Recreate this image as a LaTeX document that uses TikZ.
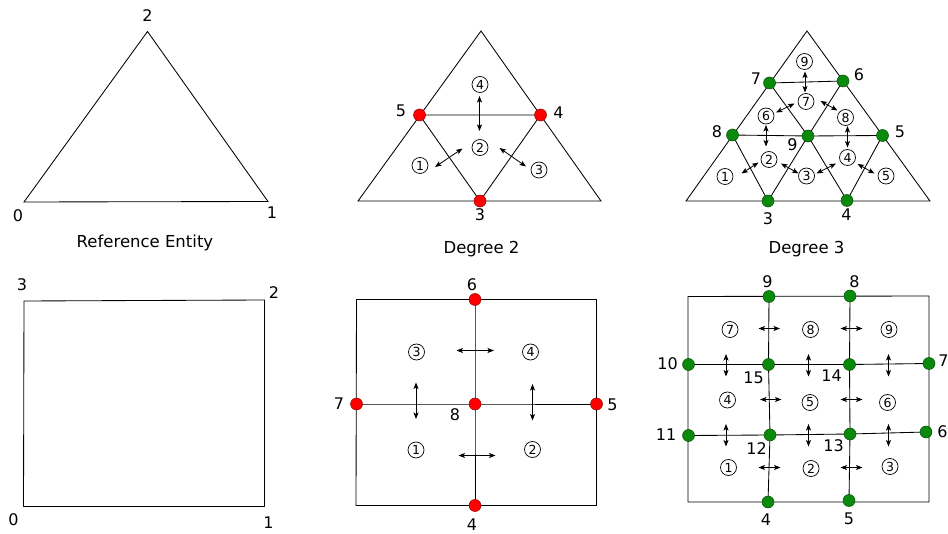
\documentclass[tikz,border=0pt]{standalone}
\usepackage{fontspec}
\setmainfont{DejaVu Sans}
\usetikzlibrary{arrows.meta}
\definecolor{rdot}{HTML}{FF0000}
\definecolor{gdot}{HTML}{0A8A0A}
\begin{document}
\begin{tikzpicture}[x=1pt,y=-1pt,
  edge/.style={line width=0.85pt, line join=miter},
  rdotst/.style={circle, fill=rdot, draw=rdot!55!black, line width=0.5pt, minimum size=12pt, inner sep=0pt},
  gdotst/.style={circle, fill=gdot, draw=gdot!55!black, line width=0.5pt, minimum size=12pt, inner sep=0pt},
  lab/.style={inner sep=0pt, font=\fontsize{16}{16}\selectfont},
  ttl/.style={inner sep=0pt, font=\fontsize{16.5}{18}\selectfont},
  cnum/.style={circle, draw, line width=0.7pt, minimum size=16pt, inner sep=0pt, font=\fontsize{12.5}{12.5}\selectfont},
  dbl/.style={line width=0.8pt, {Stealth[length=6.5pt,width=5pt,inset=1.5pt]}-{Stealth[length=6.5pt,width=5pt,inset=1.5pt]}}]
\path[use as bounding box] (0,0) rectangle (948,534);

% ---------------- Reference triangle ----------------
\coordinate (rt0) at (24,202);
\coordinate (rt1) at (268,201.5);
\coordinate (rt2) at (147.5,31.5);
\draw[edge] (rt0) -- (rt1) -- (rt2) -- cycle;
\node[lab] (lrt2) at (147.5,16) {2};
\node[lab] (lrt0) at (18,216) {0};
\node[lab] (lrt1) at (272,213) {1};
\node[ttl] (trt) at (145,243) {Reference Entity};

% ---------------- Reference square ----------------
\coordinate (rq0) at (23.5,506.5);
\coordinate (rq1) at (264.5,506.5);
\coordinate (rq2) at (264.5,300);
\coordinate (rq3) at (24,301);
\draw[edge] (rq0) -- (rq1) -- (rq2) -- (rq3) -- cycle;
\node[lab] (lrq3) at (22,285) {3};
\node[lab] (lrq2) at (274,292.5) {2};
\node[lab] (lrq0) at (13.5,520) {0};
\node[lab] (lrq1) at (268.5,523) {1};

% ---------------- Degree 2 triangle ----------------
\coordinate (at0) at (358,201);
\coordinate (at1) at (601,201);
\coordinate (at2) at (481,31);
\draw[edge] (at0) -- (at1) -- (at2) -- cycle;
\coordinate (a5) at (419.5,115);
\coordinate (a4) at (540.5,115);
\coordinate (a3) at (480,201);
\draw[edge] (a5) -- (a4) -- (a3) -- cycle;
\foreach \n in {5,4,3} { \node[rdotst] (ra\n) at (a\n) {}; }
\node[lab] (la5) at (401,110.5) {5};
\node[lab] (la4) at (558.5,112.5) {4};
\node[lab] (la3) at (480,215) {3};
\node[ttl] (tat) at (481.5,249) {Degree 2};
\node[cnum] (ac4) at (480,84.5) {4};
\node[cnum] (ac2) at (480,147.5) {2};
\node[cnum] (ac1) at (420,165.5) {1};
\node[cnum] (ac3) at (539,170) {3};
\coordinate (aa1) at (479.5,96);   \coordinate (aa2) at (479.5,131);
\coordinate (ab1) at (435,167);    \coordinate (ab2) at (462.5,148.5);
\coordinate (ad1) at (499.5,148);  \coordinate (ad2) at (526,166.5);
\foreach \p in {a,b,d} { \draw[dbl] (a\p1) -- (a\p2); }

% ---------------- Degree 3 triangle ----------------
\coordinate (bt0) at (686,201);
\coordinate (bt1) at (930,201);
\coordinate (bt2) at (807,31);
\draw[edge] (bt0) -- (bt1) -- (bt2) -- cycle;
\coordinate (b7) at (769.5,83);
\coordinate (b6) at (843,81);
\coordinate (b8) at (732.5,135);
\coordinate (b9) at (808,136);
\coordinate (b5) at (882.5,135.5);
\coordinate (b3) at (768,201);
\coordinate (b4) at (847,200.5);
\draw[edge] (b7) -- (b6);
\draw[edge] (b8) -- (b9) -- (b5);
\draw[edge] (b8) -- (b3) -- (b9) -- (b4) -- (b5);
\draw[edge] (b7) -- (b9) -- (b6);
\foreach \n in {7,6,8,9,5,3,4} { \node[gdotst] (gb\n) at (b\n) {}; }
\node[lab] (lb7) at (756,79) {7};
\node[lab] (lb6) at (859,75) {6};
\node[lab] (lb8) at (717,131.5) {8};
\node[lab] (lb9) at (792.5,145) {9};
\node[lab] (lb5) at (900,131.5) {5};
\node[lab] (lb3) at (768,219) {3};
\node[lab] (lb4) at (846.5,215) {4};
\node[ttl] (tbt) at (806.5,249) {Degree 3};
\node[cnum] (bc9) at (804.5,61.5) {9};
\node[cnum] (bc7) at (806,101.5) {7};
\node[cnum] (bc6) at (766,116) {6};
\node[cnum] (bc8) at (845.5,117.5) {8};
\node[cnum] (bc2) at (769,159.5) {2};
\node[cnum] (bc4) at (847.5,157.5) {4};
\node[cnum] (bc1) at (725,176.5) {1};
\node[cnum] (bc3) at (806.5,176) {3};
\node[cnum] (bc5) at (886,176) {5};
\coordinate (ba1) at (805,71.5);    \coordinate (ba2) at (805,92.5);
\coordinate (bb1) at (776,112.5);   \coordinate (bb2) at (794.5,103.5);
\coordinate (bd1) at (820.5,101);   \coordinate (bd2) at (837.5,110.5);
\coordinate (be1) at (766,125);     \coordinate (be2) at (766,146.5);
\coordinate (bf1) at (847.5,126);   \coordinate (bf2) at (847.5,147.5);
\coordinate (bg1) at (741.5,173.5); \coordinate (bg2) at (758.5,162.5);
\coordinate (bh1) at (781,163.5);   \coordinate (bh2) at (798.5,173.5);
\coordinate (bi1) at (816.5,173.5); \coordinate (bi2) at (836,163.5);
\coordinate (bj1) at (857.5,164);   \coordinate (bj2) at (874.5,173.5);
\foreach \p in {a,b,d,e,f,g,h,i,j} { \draw[dbl] (b\p1) -- (b\p2); }

% ---------------- Degree 2 square ----------------
\coordinate (cq0) at (356,505.5);
\coordinate (cq1) at (596.5,505.5);
\coordinate (cq2) at (596.5,299.5);
\coordinate (cq3) at (356.5,299.5);
\draw[edge] (cq0) -- (cq1) -- (cq2) -- (cq3) -- cycle;
\coordinate (c6) at (475,299.5);
\coordinate (c7) at (356.5,404);
\coordinate (c8) at (475,404);
\coordinate (c5) at (596.5,404);
\coordinate (c4) at (475,505.5);
\draw[edge] (c6) -- (c8) -- (c4);
\draw[edge] (c7) -- (c8) -- (c5);
\foreach \n in {6,7,8,5,4} { \node[rdotst] (rc\n) at (c\n) {}; }
\node[lab] (lc6) at (472,285) {6};
\node[lab] (lc7) at (339,404) {7};
\node[lab] (lc8) at (455,415) {8};
\node[lab] (lc5) at (612.5,405) {5};
\node[lab] (lc4) at (472,525) {4};
\node[cnum] (cc3) at (416.5,352) {3};
\node[cnum] (cc4) at (530.5,352) {4};
\node[cnum] (cc1) at (416,450) {1};
\node[cnum] (cc2) at (532.5,449.5) {2};
\coordinate (ca1) at (456.5,350.5); \coordinate (ca2) at (494,350.5);
\coordinate (cb1) at (416,382.5);   \coordinate (cb2) at (416,419);
\coordinate (cd1) at (532.5,384);   \coordinate (cd2) at (532.5,420.5);
\coordinate (ce1) at (458.5,455.5); \coordinate (ce2) at (495.5,455.5);
\foreach \p in {a,b,d,e} { \draw[dbl] (c\p1) -- (c\p2); }

% ---------------- Degree 3 square ----------------
\coordinate (dq0) at (688,502);
\coordinate (dq1) at (929,502);
\coordinate (dq2) at (929,296);
\coordinate (dq3) at (688,296.5);
\draw[edge] (dq0) -- (dq1) -- (dq2) -- (dq3) -- cycle;
\coordinate (d9) at (769,296.5);
\coordinate (d8) at (850,296);
\coordinate (d10) at (688.5,364.5);
\coordinate (d15) at (768.5,364.5);
\coordinate (d14) at (849.5,364.5);
\coordinate (d7) at (929,363.5);
\coordinate (d11) at (688.5,435.5);
\coordinate (d12) at (770,435);
\coordinate (d13) at (850,434);
\coordinate (d6) at (926,432);
\coordinate (d4) at (768,502);
\coordinate (d5) at (849,500.5);
\draw[edge] (d9) -- (d15) -- (d12) -- (d4);
\draw[edge] (d8) -- (d14) -- (d13) -- (d5);
\draw[edge] (d10) -- (d15) -- (d14) -- (d7);
\draw[edge] (d11) -- (d12) -- (d13) -- (d6);
\foreach \n in {9,8,10,15,14,7,11,12,13,6,4,5} { \node[gdotst] (gd\n) at (d\n) {}; }
\node[lab] (ld9) at (767.5,281.5) {9};
\node[lab] (ld8) at (854.5,281.5) {8};
\node[lab] (ld10) at (667.5,364) {10};
\node[lab] (ld15) at (753.5,377.5) {15};
\node[lab] (ld14) at (831.5,376) {14};
\node[lab] (ld7) at (943.5,360.5) {7};
\node[lab] (ld11) at (666,434.5) {11};
\node[lab] (ld12) at (756.5,448.5) {12};
\node[lab] (ld13) at (833.5,445.5) {13};
\node[lab] (ld6) at (942.5,432) {6};
\node[lab] (ld4) at (766,520) {4};
\node[lab] (ld5) at (849,518.5) {5};
\node[cnum] (dc7) at (730,329.5) {7};
\node[cnum] (dc8) at (810.5,329.5) {8};
\node[cnum] (dc9) at (889,329.5) {9};
\node[cnum] (dc4) at (727.5,400) {4};
\node[cnum] (dc5) at (810,402.5) {5};
\node[cnum] (dc6) at (887.5,402.5) {6};
\node[cnum] (dc1) at (728.5,467.5) {1};
\node[cnum] (dc2) at (811,468.5) {2};
\node[cnum] (dc3) at (890,466.5) {3};
\coordinate (da1) at (758.5,328.5); \coordinate (da2) at (780,328.5);
\coordinate (db1) at (840.5,328.5); \coordinate (db2) at (862.5,328.5);
\coordinate (dd1) at (760,399.5);   \coordinate (dd2) at (781.5,399.5);
\coordinate (de1) at (840.5,399.5); \coordinate (de2) at (862.5,399.5);
\coordinate (df1) at (758.5,467.5); \coordinate (df2) at (780.5,467.5);
\coordinate (dg1) at (840.5,467.5); \coordinate (dg2) at (862.5,467.5);
\coordinate (dh1) at (726,354);     \coordinate (dh2) at (726,376.5);
\coordinate (di1) at (808.5,354);   \coordinate (di2) at (808.5,376.5);
\coordinate (dj1) at (888.5,354);   \coordinate (dj2) at (888.5,376.5);
\coordinate (dk1) at (726,424);     \coordinate (dk2) at (726,446.5);
\coordinate (dl1) at (808.5,424);   \coordinate (dl2) at (808.5,446.5);
\coordinate (dm1) at (888.5,424);   \coordinate (dm2) at (888.5,446.5);
\foreach \p in {a,b,d,e,f,g,h,i,j,k,l,m} { \draw[dbl] (d\p1) -- (d\p2); }
\end{tikzpicture}
\end{document}
